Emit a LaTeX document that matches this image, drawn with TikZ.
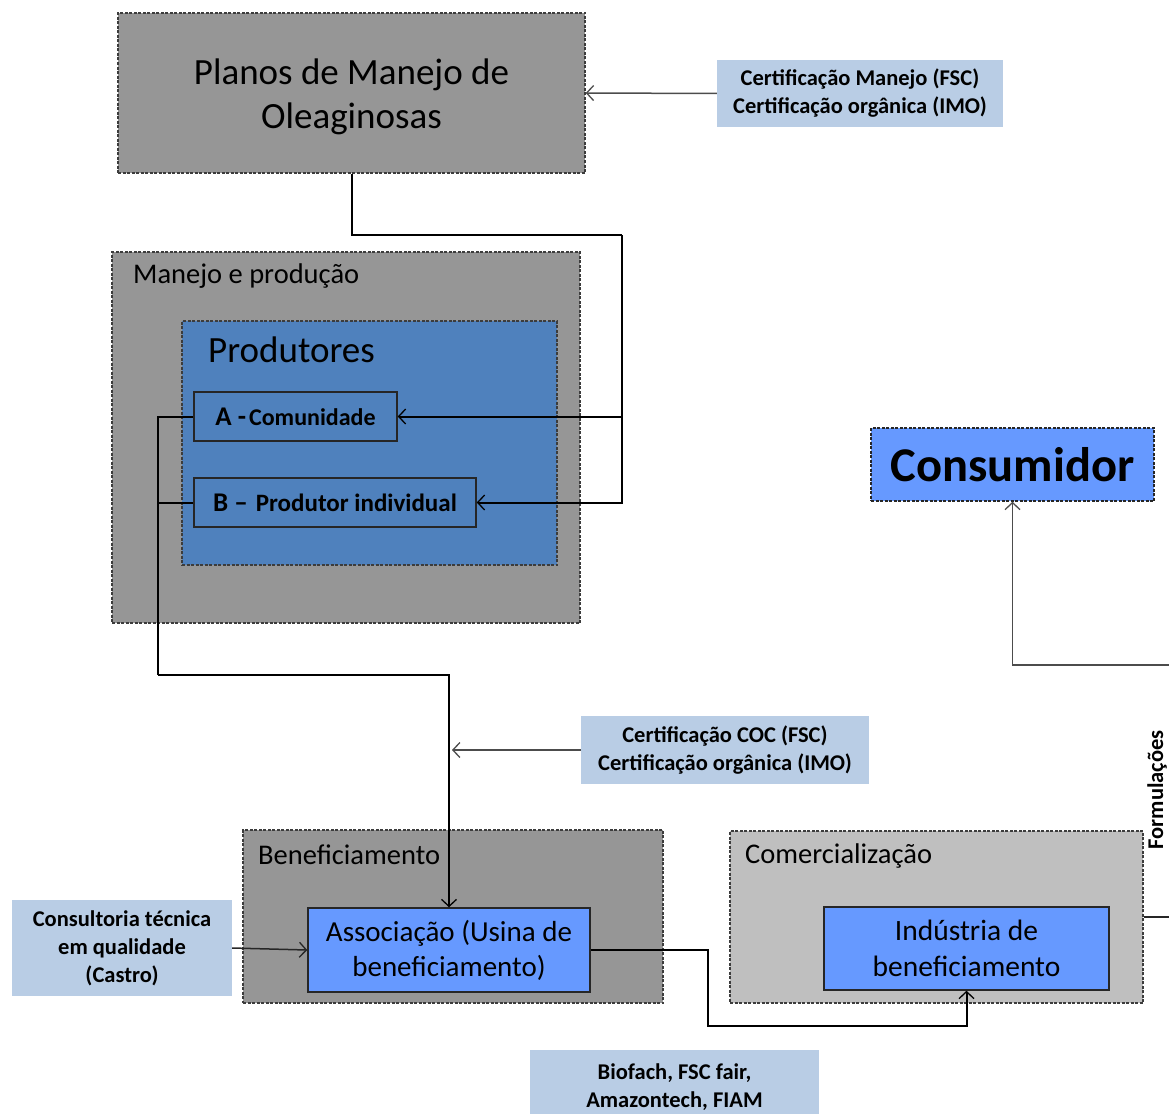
\documentclass[tikz,border=0pt]{standalone}
\usepackage{fontspec}
\setmainfont{Carlito}
\usetikzlibrary{arrows.meta}
\definecolor{boxgray}{RGB}{150,150,150}
\definecolor{palegray}{RGB}{191,191,191}
\definecolor{prodblue}{RGB}{79,129,189}
\definecolor{unitblue}{RGB}{102,153,255}
\definecolor{certblue}{RGB}{185,205,229}
\definecolor{edgegray}{RGB}{60,60,60}
\begin{document}
\begin{tikzpicture}[x=1pt,y=-1pt,
  area/.style={draw=edgegray,line width=1.4pt,dash pattern=on 3pt off 1.5pt,fill=boxgray},
  unit/.style={draw=black!85,line width=1.5pt,fill=unitblue,align=center},
  cert/.style={fill=certblue,align=center,font=\bfseries\fontsize{22.5}{28}\selectfont},
  title/.style={anchor=base west,inner sep=0pt,font=\fontsize{28.5}{32}\selectfont},
  conn/.style={line width=2pt,black},
  thin/.style={line width=1.5pt,black!70},
  tip/.style={-{Straight Barb[length=7pt,width=15pt,line width=1.3pt]}}]%
% 1px = 1pt, y grows downwards
\useasboundingbox (0,0) rectangle (1169,1113);
\clip (0,0) rectangle (1169,1113);
\def\cdraw{\draw[conn]}
\node[area,minimum width=467pt,minimum height=160pt,align=center,
 font=\fontsize{37}{44}\selectfont] (planos) at (351.5,93) {};
\node[align=center,font=\fontsize{37}{44}\selectfont] (planost) at (351.5,97)
 {Planos de Manejo de\\Oleaginosas};
\node[cert,minimum width=286pt,minimum height=67pt] (certA) at (860,93.5)
 {Certificação Manejo (FSC)\\Certificação orgânica (IMO)};
\node[area,minimum width=468pt,minimum height=371pt] (manejo) at (346,437.5) {};
\node[title] (manejot) at (133,283) {Manejo e produção};
\node[area,fill=prodblue,minimum width=375pt,minimum height=244pt] (prod) at (369.5,443) {};
\node[title,font=\fontsize{37}{40}\selectfont] (prodt) at (208,362) {Produtores};
\node[draw=black!85,line width=1.5pt,fill=prodblue,minimum width=203pt,minimum height=49pt,
 font=\bfseries\fontsize{24}{27}\selectfont] (comA) at (295.5,416.5)
 {{\fontsize{27}{30}\selectfont A -}\hspace{3pt}Comunidade};
\node[draw=black!85,line width=1.5pt,fill=prodblue,minimum width=282pt,minimum height=49pt,
 font=\bfseries\fontsize{25}{27}\selectfont] (indB) at (335,502.5)
 {{\fontsize{27}{30}\selectfont B --}\hspace{8pt}Produtor individual};
\node[cert,minimum width=288pt,minimum height=68pt] (certB) at (725,750)
 {Certificação COC (FSC)\\Certificação orgânica (IMO)};
\node[area,minimum width=420pt,minimum height=173pt] (benef) at (453,916.5) {};
\node[title] (beneft) at (258,864) {Beneficiamento};
\node[unit,minimum width=282pt,minimum height=84pt,font=\fontsize{29}{35}\selectfont]
 (assoc) at (449,950) {Associação (Usina de\\beneficiamento)};
\node[cert,minimum width=220pt,minimum height=96pt] (consult) at (122,948)
 {Consultoria técnica\\em qualidade\\(Castro)};
\node[area,fill=palegray,minimum width=413pt,minimum height=172pt] (comerc) at (936.5,917) {};
\node[title] (comerct) at (745,863) {Comercialização};
\node[unit,minimum width=285pt,minimum height=83pt,font=\fontsize{29.5}{36}\selectfont]
 (ind) at (966.5,948.5) {Indústria de\\beneficiamento};
\node[unit,dash pattern=on 3pt off 1.5pt,minimum width=283pt,minimum height=73pt,
 font=\bfseries\fontsize{48.5}{52}\selectfont] (cons) at (1012.5,464.5) {Consumidor};
\node[cert,minimum width=289pt,minimum height=75pt] (feiras) at (674.5,1087.5)
 {Biofach, FSC fair,\\Amazontech, FIAM};
\node[rotate=90,anchor=base,font=\bfseries\fontsize{22.5}{24}\selectfont] (form) at (1163,790)
 {Formulações};
% connectors
\coordinate (split) at (622,235);
\coordinate (down) at (158,675);
\coordinate (bend) at (708,1026);
\coordinate (outC) at (1180,665);
\coordinate (outR) at (1180,917);
\draw[thin,tip] (certA.west) -- (planos.east);
\cdraw (planos.south) |- (split);
\cdraw[tip] (split) |- (comA.east);
\cdraw[tip] (split) |- (indB.east);
\cdraw (comA.west) -| (down);
\cdraw (indB.west) -| (down);
\cdraw[tip] (down) -| (assoc.north);
\draw[thin,tip] (certB.west) -- ([xshift=3pt]certB.west -| assoc.north);
\draw[thin,black!85,tip] (consult.east) -- (assoc.west);
\cdraw[tip] (assoc.east) -| (bend) -| (ind.south);
\draw[thin,black!85] (comerc.east) -- (outR);
\draw[thin,tip] (outC) -| (cons.south);
\end{tikzpicture}
\end{document}
